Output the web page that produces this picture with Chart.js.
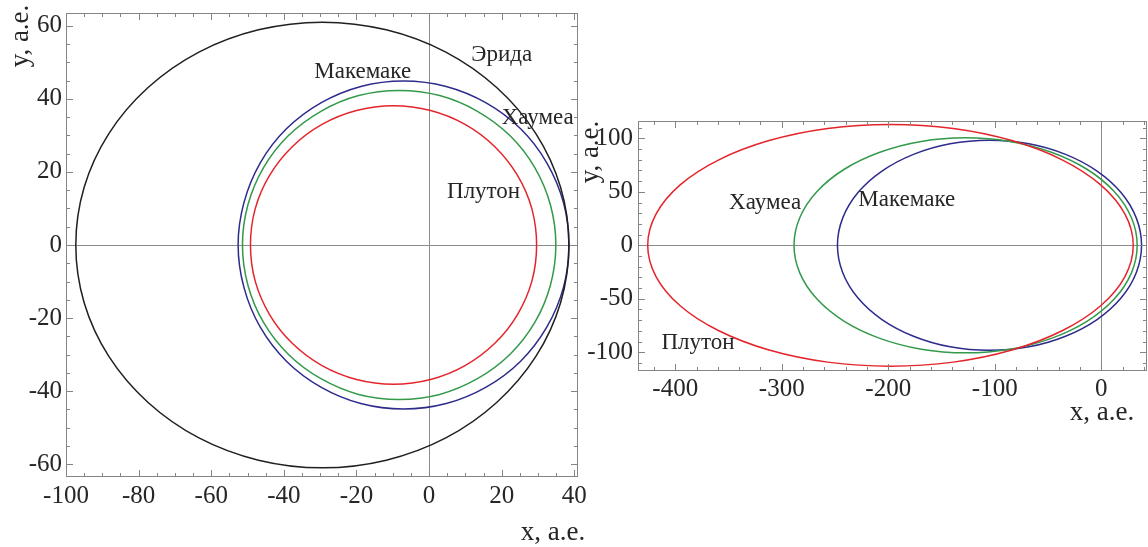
<!DOCTYPE html>
<html>
<head>
<meta charset="utf-8">
<script src="https://cdn.jsdelivr.net/npm/chart.js@4.4.1/dist/chart.umd.min.js"></script>
<style>
  html, body { margin: 0; padding: 0; background: #fff; }
  body { width: 1148px; height: 547px; position: relative; overflow: hidden; }
  canvas { position: absolute; display: block; }
  #orbitsNear { left: 0; top: 0; }
  #orbitsFar { left: 580px; top: 100px; }
</style>
</head>
<body>
<canvas id="orbitsNear" width="600" height="547"></canvas>
<canvas id="orbitsFar" width="568" height="340"></canvas>
<script>
// ---- Left panel: orbits of the dwarf planets, x and y in a.e. ----
// 24 points per orbit, every 15 degrees around; each line is drawn as a closed loop.
const erisX = [-77.4, -63.4, -47.0, -29.4, -11.8, 4.6, 18.6, 29.4, 36.2, 38.5, 36.2, 29.4, 18.6, 4.6, -11.8, -29.4, -47.0, -63.4, -77.4, -88.2, -95.0, -97.3, -95.0, -88.2];
const erisY = [-43.1, -52.8, -58.9, -61.0, -58.9, -52.8, -43.1, -30.5, -15.8, 0, 15.8, 30.5, 43.1, 52.8, 58.9, 61.0, 58.9, 52.8, 43.1, 30.5, 15.8, 0, -15.8, -30.5];

const makemakeX = [-39.3, -29.8, -18.8, -7.05, 4.7, 15.7, 25.2, 32.4, 37.0, 38.5, 37.0, 32.4, 25.2, 15.7, 4.7, -7.05, -18.8, -29.8, -39.3, -46.5, -51.0, -52.6, -51.0, -46.5];
const makemakeY = [-31.8, -38.9, -43.4, -44.9, -43.4, -38.9, -31.8, -22.5, -11.6, 0, 11.6, 22.5, 31.8, 38.9, 43.4, 44.9, 43.4, 38.9, 31.8, 22.5, 11.6, 0, -11.6, -22.5];

const haumeaX = [-38.8, -29.8, -19.4, -8.25, 2.9, 13.3, 22.3, 29.1, 33.4, 34.9, 33.4, 29.1, 22.3, 13.3, 2.9, -8.25, -19.4, -29.8, -38.8, -45.6, -49.9, -51.4, -49.9, -45.6];
const haumeaY = [-29.9, -36.6, -40.9, -42.3, -40.9, -36.6, -29.9, -21.2, -11.0, 0, 11.0, 21.2, 29.9, 36.6, 40.9, 42.3, 40.9, 36.6, 29.9, 21.2, 11.0, 0, -11.0, -21.2];

const plutoX = [-37.7, -29.5, -20.0, -9.8, 0.4, 9.9, 18.1, 24.3, 28.3, 29.6, 28.3, 24.3, 18.1, 9.9, 0.4, -9.8, -20.0, -29.5, -37.7, -43.9, -47.9, -49.2, -47.9, -43.9];
const plutoY = [-26.9, -33.0, -36.8, -38.1, -36.8, -33.0, -26.9, -19.1, -9.9, 0, 9.9, 19.1, 26.9, 33.0, 36.8, 38.1, 36.8, 33.0, 26.9, 19.1, 9.9, 0, -9.9, -19.1];

const nearXTicks = [-100, -80, -60, -40, -20, 0, 20, 40];
const nearYTicks = [-60, -40, -20, 0, 20, 40, 60];

// ---- Right panel ----
const plutoFarX = [-395.4, -418.1, -425.9, -418.1, -395.4, -359.1, -311.9, -256.9, -197.9, -138.9, -83.9, -36.7, -0.5, 22.3, 30.1, 22.3, -0.5, -36.7, -83.9, -138.9, -197.9, -256.9, -311.9, -359.1];
const plutoFarY = [56.5, 29.2, 0, -29.2, -56.5, -79.9, -97.9, -109.2, -113.0, -109.2, -97.9, -79.9, -56.5, -29.2, 0, 29.2, 56.5, 79.9, 97.9, 109.2, 113.0, 109.2, 97.9, 79.9];

const haumeaFarX = [-266.9, -283.0, -288.5, -283.0, -266.9, -241.3, -207.9, -169.1, -127.4, -85.6, -46.8, -13.4, 12.2, 28.3, 33.8, 28.3, 12.2, -13.4, -46.8, -85.6, -127.4, -169.1, -207.9, -241.3];
const haumeaFarY = [50.3, 26.0, 0, -26.0, -50.3, -71.1, -87.0, -97.1, -100.5, -97.1, -87.0, -71.1, -50.3, -26.0, 0, 26.0, 50.3, 71.1, 87.0, 97.1, 100.5, 97.1, 87.0, 71.1];

const makemakeFarX = [-228.6, -242.8, -247.7, -242.8, -228.6, -205.9, -176.3, -141.9, -104.9, -67.9, -33.5, -3.9, 18.8, 33.0, 37.9, 33.0, 18.8, -3.9, -33.5, -67.9, -104.9, -141.9, -176.3, -205.9];
const makemakeFarY = [49.1, 25.4, 0, -25.4, -49.1, -69.4, -85.0, -94.9, -98.2, -94.9, -85.0, -69.4, -49.1, -25.4, 0, 25.4, 49.1, 69.4, 85.0, 94.9, 98.2, 94.9, 85.0, 69.4];

const farXTicks = [-400, -300, -200, -100, 0];
const farYTicks = [-100, -50, 0, 50, 100];

// Orbit names and where they sit, in data units
const nearNames = [
  { text: 'Эрида',    x: 20.0,  y: 51.9 },
  { text: 'Макемаке', x: -18.3, y: 47.5 },
  { text: 'Хаумеа',   x: 29.9,  y: 34.8 },
  { text: 'Плутон',   x: 15.0,  y: 14.5 }
];
const farNames = [
  { text: 'Хаумеа',   x: -315.6, y: 39.3 },
  { text: 'Макемаке', x: -182.6, y: 42.0 },
  { text: 'Плутон',   x: -378.6, y: -91.6 }
];

const COLORS = { eris: '#202020', makemake: '#2d2b8c', haumea: '#33994b', pluto: '#e3252b' };
const SERIF = '"Liberation Serif", "Times New Roman", "DejaVu Serif", serif';
const TEXT = '#262626';
const FRAME = '#858585';

function orbit(label, xs, ys, color) {
  return {
    label,
    data: xs.map((x, i) => ({ x, y: ys[i] })),
    borderColor: color,
    backgroundColor: color,
    borderWidth: 1.5,
    pointRadius: 0,
    pointHoverRadius: 0,
    tension: 0.34,
    spanGaps: false,
    fill: false
  };
}

// Orbits are closed curves: join the last point back to the first,
// smoothing across the join the same way the radar chart does.
const closedLoops = {
  id: 'closedLoops',
  afterDatasetsUpdate(chart) {
    chart.getSortedVisibleDatasetMetas().forEach(meta => {
      const line = meta.dataset;
      if (!line) return;
      line._loop = true;
      line._fullLoop = true;
      line._pointsUpdated = false;
      delete line._segments;
      delete line._path;
    });
  }
};

// Frame with inward major/minor ticks on all four sides
function framePlugin(cfg) {
  return {
    id: 'frameTicks',
    afterDatasetsDraw(chart) {
      const { ctx, chartArea: a, scales: { x, y } } = chart;
      ctx.save();
      ctx.strokeStyle = FRAME;
      ctx.lineWidth = 1;
      const tick = (x1, y1, x2, y2) => { ctx.beginPath(); ctx.moveTo(x1, y1); ctx.lineTo(x2, y2); ctx.stroke(); };
      ctx.strokeRect(Math.round(a.left) + 0.5, Math.round(a.top) + 0.5,
                     Math.round(a.right - a.left) - 1, Math.round(a.bottom - a.top) - 1);
      for (let v = Math.ceil(x.min / cfg.xMinor) * cfg.xMinor; v <= x.max; v += cfg.xMinor) {
        const p = Math.round(x.getPixelForValue(v)) + 0.5;
        const len = (Math.abs(v % cfg.xMajor) < 1e-9) ? 7 : 4;
        tick(p, a.bottom, p, a.bottom - len);
        tick(p, a.top, p, a.top + len);
      }
      for (let v = Math.ceil(y.min / cfg.yMinor) * cfg.yMinor; v <= y.max; v += cfg.yMinor) {
        const p = Math.round(y.getPixelForValue(v)) + 0.5;
        const len = (Math.abs(v % cfg.yMajor) < 1e-9) ? 7 : 4;
        tick(a.left, p, a.left + len, p);
        tick(a.right, p, a.right - len, p);
      }
      ctx.restore();
    }
  };
}

// Orbit names (placed in data units) and the axis titles
function textPlugin(names, titles) {
  return {
    id: 'orbitText',
    afterDraw(chart) {
      const { ctx, scales: { x, y } } = chart;
      ctx.save();
      ctx.fillStyle = TEXT;
      ctx.textAlign = 'center';
      ctx.textBaseline = 'middle';
      ctx.font = '23px ' + SERIF;
      names.forEach(n => ctx.fillText(n.text, x.getPixelForValue(n.x), y.getPixelForValue(n.y)));
      ctx.font = '27px ' + SERIF;
      ctx.fillText('x, a.e.', titles.x[0], titles.x[1]);
      ctx.translate(titles.y[0], titles.y[1]);
      ctx.rotate(-Math.PI / 2);
      ctx.fillText('y, a.e.', 0, 0);
      ctx.restore();
    }
  };
}

const zeroLine = c => (c.tick && c.tick.value === 0) ? '#8c8c8c' : 'rgba(0,0,0,0)';

function axis(min, max, ticks, size, horizontal, pad) {
  return {
    type: 'linear',
    min, max,
    afterBuildTicks: s => { s.ticks = ticks.map(v => ({ value: v })); },
    afterFit: s => {
      if (horizontal) s.height = size; else s.width = size;
      s.paddingTop = 0; s.paddingBottom = 0; s.paddingLeft = 0; s.paddingRight = 0;
    },
    grid: { color: zeroLine, lineWidth: 1, drawTicks: false, offset: false },
    offset: false,
    border: { display: false },
    ticks: { font: { family: SERIF, size: 25 }, color: TEXT, padding: pad, autoSkip: false, maxRotation: 0 }
  };
}

Chart.defaults.animation = false;

new Chart(document.getElementById('orbitsNear'), {
  type: 'line',
  data: {
    datasets: [
      orbit('Эрида', erisX, erisY, COLORS.eris),
      orbit('Макемаке', makemakeX, makemakeY, COLORS.makemake),
      orbit('Хаумеа', haumeaX, haumeaY, COLORS.haumea),
      orbit('Плутон', plutoX, plutoY, COLORS.pluto)
    ]
  },
  options: {
    responsive: false,
    animation: false,
    events: [],
    layout: { padding: { top: 13, right: 22, bottom: 0, left: 0 } },
    plugins: { legend: { display: false }, tooltip: { enabled: false } },
    scales: {
      x: axis(-100, 41, nearXTicks, 70, true, 4),
      y: axis(-63.5, 63.5, nearYTicks, 66, false, 4)
    }
  },
  plugins: [
    closedLoops,
    framePlugin({ xMinor: 5, xMajor: 20, yMinor: 5, yMajor: 20 }),
    textPlugin(nearNames, { x: [553, 533], y: [21, 36] })
  ]
});

new Chart(document.getElementById('orbitsFar'), {
  type: 'line',
  data: {
    datasets: [
      orbit('Плутон', plutoFarX, plutoFarY, COLORS.pluto),
      orbit('Хаумеа', haumeaFarX, haumeaFarY, COLORS.haumea),
      orbit('Макемаке', makemakeFarX, makemakeFarY, COLORS.makemake)
    ]
  },
  options: {
    responsive: false,
    animation: false,
    events: [],
    layout: { padding: { top: 21, right: 1, bottom: 0, left: 0 } },
    plugins: { legend: { display: false }, tooltip: { enabled: false } },
    scales: {
      x: axis(-435, 43, farXTicks, 69, true, 3),
      y: axis(-117.5, 116.2, farYTicks, 58, false, 5)
    }
  },
  plugins: [
    closedLoops,
    framePlugin({ xMinor: 20, xMajor: 100, yMinor: 10, yMajor: 50 }),
    textPlugin(farNames, { x: [522, 313], y: [11, 52] })
  ]
});
</script>
</body>
</html>
